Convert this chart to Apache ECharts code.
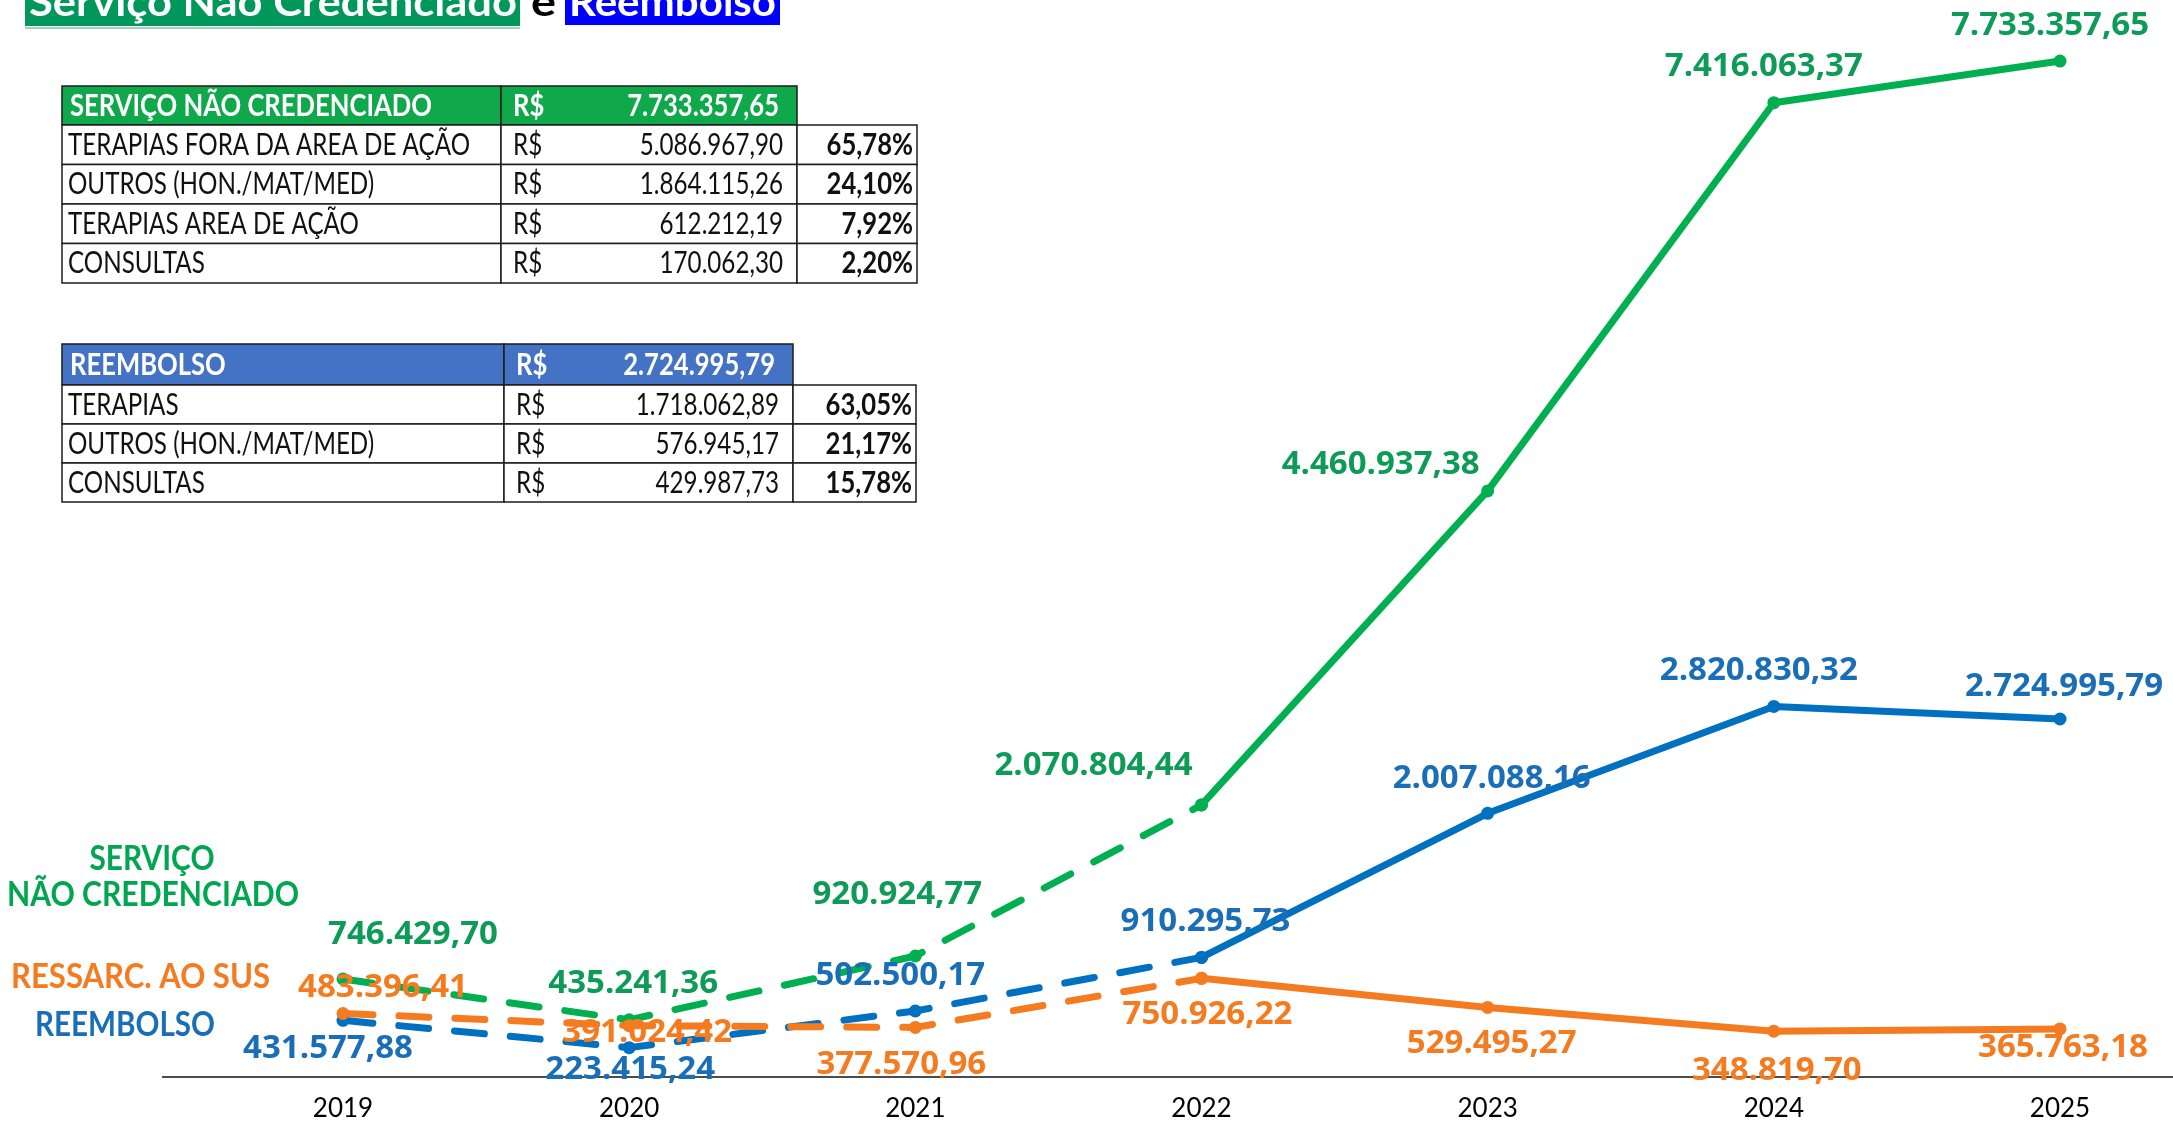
<!DOCTYPE html>
<html>
<head>
<meta charset="utf-8">
<style>
  html, body { margin: 0; padding: 0; background: #ffffff; }
  #chart { width: 2173px; height: 1122px; }
</style>
<script src="https://cdn.jsdelivr.net/npm/echarts@6/dist/echarts.min.js"></script>
</head>
<body>
<div id="chart"></div>
<script>
// ---- data ----
const years = ['2019', '2020', '2021', '2022', '2023', '2024', '2025'];
const servicoNaoCredenciado = [746429.70, 435241.36, 920924.77, 2070804.44, 4460937.38, 7416063.37, 7733357.65];
const reembolso = [431577.88, 223415.24, 502500.17, 910295.73, 2007088.16, 2820830.32, 2724995.79];
const ressarcSus = [483396.41, 391024.42, 377570.96, 750926.22, 529495.27, 348819.70, 365763.18];
const lastDashedIndex = 3; // years up to 2022 drawn dashed, from 2022 on solid

// breakdown tables
const sncTitle = 'SERVIÇO NÃO CREDENCIADO';
const sncTotal = '7.733.357,65';
const sncItems = ['TERAPIAS FORA DA AREA DE AÇÃO', 'OUTROS (HON./MAT/MED)', 'TERAPIAS AREA DE AÇÃO', 'CONSULTAS'];
const sncValues = ['5.086.967,90', '1.864.115,26', '612.212,19', '170.062,30'];
const sncShares = ['65,78%', '24,10%', '7,92%', '2,20%'];

const reeTitle = 'REEMBOLSO';
const reeTotal = '2.724.995,79';
const reeItems = ['TERAPIAS', 'OUTROS (HON./MAT/MED)', 'CONSULTAS'];
const reeValues = ['1.718.062,89', '576.945,17', '429.987,73'];
const reeShares = ['63,05%', '21,17%', '15,78%'];

// ---- label placement (centre of each value label relative to its point) ----
const sncOffsets = [[70, -44], [4, -36], [-18, -61], [-108, -39], [-107, -26], [-10, -36], [-10, -35]];
const reeOffsets = [[-15, 28], [1, 22], [-15, -35], [4, -36], [4, -35], [-15, -36], [4, -32]];
const susOffsets = [[40, -26], [18, 7], [-14, 37], [6, 36], [4, 36], [3, 39], [3, 19]];

const GREEN = '#00B050', GREEN_TXT = '#0E9B57';
const BLUE = '#0070C0', BLUE_TXT = '#1A6EB8';
const ORANGE = '#F47B20', ORANGE_TXT = '#F47B20';

// plot frame
const GRID = { left: 343, right: 113, top: 26, height: 1051 };
const AXIS_Y = GRID.top + GRID.height;

function fmtBR(v) {
  const parts = v.toFixed(2).split('.');
  return parts[0].replace(/\B(?=(\d{3})+(?!\d))/g, '.') + ',' + parts[1];
}

const measureCtx = document.createElement('canvas').getContext('2d');
function fitScale(text, font, width) {
  measureCtx.font = font;
  return width / measureCtx.measureText(text).width;
}

function lineSeries(name, values, offsets, lineColor, textColor, dashed) {
  const data = values.map(function (v, i) {
    const inPart = dashed ? i <= lastDashedIndex : i >= lastDashedIndex;
    if (!inPart) return '-';
    const showLabel = dashed ? i < lastDashedIndex : true;
    return {
      value: v,
      label: showLabel ? { show: true, offset: offsets[i] } : { show: false }
    };
  });
  return {
    name: name,
    type: 'line',
    data: data,
    symbol: 'circle',
    symbolSize: 13,
    connectNulls: false,
    itemStyle: { color: lineColor },
    lineStyle: {
      color: lineColor,
      width: 7,
      type: dashed ? [30, 26] : 'solid',
      cap: dashed ? 'round' : 'butt'
    },
    label: {
      show: true,
      position: 'inside',
      color: textColor,
      fontFamily: 'Open Sans',
      fontWeight: 'bold',
      fontSize: 33,
      formatter: function (p) { return fmtBR(p.value); }
    },
    emphasis: { disabled: true },
    z: 3
  };
}

// ---- table drawing ----
const TABLE_FONT_SIZE = 31;
const regFont = TABLE_FONT_SIZE + 'px Lato';
const boldFont = 'bold ' + TABLE_FONT_SIZE + 'px Lato';
const regScale = fitScale('TERAPIAS FORA DA AREA DE AÇÃO', regFont, 402);
const boldScale = fitScale('SERVIÇO NÃO CREDENCIADO', boldFont, 362);

function cellText(text, x, y, align, bold, color) {
  return {
    type: 'text',
    x: x, y: y,
    scaleX: bold ? boldScale : regScale,
    z: 20,
    style: {
      text: text,
      font: bold ? boldFont : regFont,
      fill: color,
      textAlign: align,
      textVerticalAlign: 'middle'
    }
  };
}

function cellRect(x, y, w, h, fill) {
  return {
    type: 'rect',
    z: 10,
    shape: { x: x, y: y, width: w, height: h },
    style: { fill: fill, stroke: '#1c1c1c', lineWidth: 1.5 }
  };
}

function buildTable(g) {
  const els = [];
  const x0 = g.x0, c1 = g.c1, c2 = g.c2, c3 = g.c3;
  els.push(cellRect(x0, g.top, c1 - x0, g.headerH, g.headerColor));
  els.push(cellRect(c1, g.top, c2 - c1, g.headerH, g.headerColor));
  const hy = g.top + g.headerH / 2;
  els.push(cellText(g.title, x0 + 8, hy, 'left', true, '#ffffff'));
  els.push(cellText('R$', c1 + 12, hy, 'left', true, '#ffffff'));
  els.push(cellText(g.total, c2 - 18, hy, 'right', true, '#ffffff'));
  g.items.forEach(function (item, i) {
    const ry = g.top + g.headerH + i * g.rowH;
    els.push(cellRect(x0, ry, c1 - x0, g.rowH, '#ffffff'));
    els.push(cellRect(c1, ry, c2 - c1, g.rowH, '#ffffff'));
    els.push(cellRect(c2, ry, c3 - c2, g.rowH, '#ffffff'));
    const cy = ry + g.rowH / 2;
    els.push(cellText(item, x0 + 6, cy, 'left', false, '#111111'));
    els.push(cellText('R$', c1 + 12, cy, 'left', false, '#111111'));
    els.push(cellText(g.values[i], c2 - 14, cy, 'right', false, '#111111'));
    els.push(cellText(g.shares[i], c3 - 4, cy, 'right', true, '#111111'));
  });
  return els;
}

// ---- heading (runs off the top edge) ----
function headingElements() {
  const size = 40;
  const font = 'bold ' + size + 'px Lato';
  const midY = 3;
  const els = [];
  els.push({ type: 'rect', z: 10, shape: { x: 25, y: -30, width: 495, height: 56 }, style: { fill: '#00975A' } });
  els.push({ type: 'rect', z: 10, shape: { x: 25, y: 27, width: 495, height: 2 }, style: { fill: '#9FD6BF' } });
  els.push({ type: 'rect', z: 10, shape: { x: 565, y: -30, width: 215, height: 55 }, style: { fill: '#0000FF' } });
  els.push({ type: 'text', x: 29, y: midY, z: 20, scaleX: fitScale('Serviço Não Credenciado', font, 488),
    style: { text: 'Serviço Não Credenciado', font: font, fill: '#ffffff', textAlign: 'left', textVerticalAlign: 'middle' } });
  els.push({ type: 'text', x: 531, y: midY, z: 20, scaleX: fitScale('e', font, 25),
    style: { text: 'e', font: font, fill: '#000000', textAlign: 'left', textVerticalAlign: 'middle' } });
  els.push({ type: 'text', x: 569, y: midY, z: 20, scaleX: fitScale('Reembolso', font, 207),
    style: { text: 'Reembolso', font: font, fill: '#ffffff', textAlign: 'left', textVerticalAlign: 'middle' } });
  return els;
}

// ---- series names on the left ----
function nameElements() {
  const font = 'bold 34px Lato';
  const mk = function (text, x, y, align, width, color) {
    return { type: 'text', x: x, y: y, z: 20, scaleX: fitScale(text, font, width),
      style: { text: text, font: font, fill: color, textAlign: align, textVerticalAlign: 'middle' } };
  };
  return [
    mk('SERVIÇO', 152, 859, 'center', 125, '#00A650'),
    mk('NÃO CREDENCIADO', 153, 895, 'center', 292, '#00A650'),
    mk('RESSARC. AO SUS', 11, 977, 'left', 259, '#F47B20'),
    mk('REEMBOLSO', 35, 1025, 'left', 180, '#1A6EB8')
  ];
}

// baseline running under the whole plot
const baseline = {
  type: 'line', z: 1,
  shape: { x1: 162, y1: AXIS_Y, x2: 2173, y2: AXIS_Y },
  style: { stroke: '#111111', lineWidth: 1.5 }
};

const graphics = [baseline]
  .concat(headingElements())
  .concat(buildTable({
    x0: 62, c1: 501, c2: 797, c3: 917, top: 86, headerH: 39, rowH: 39.5,
    headerColor: '#0FA94C', title: sncTitle, total: sncTotal,
    items: sncItems, values: sncValues, shares: sncShares
  }))
  .concat(buildTable({
    x0: 62, c1: 504, c2: 793, c3: 916, top: 344, headerH: 41, rowH: 39,
    headerColor: '#4472C4', title: reeTitle, total: reeTotal,
    items: reeItems, values: reeValues, shares: reeShares
  }))
  .concat(nameElements());

const chart = echarts.init(document.getElementById('chart'), null, { renderer: 'canvas' });
chart.setOption({
  animation: false,
  backgroundColor: '#ffffff',
  grid: { left: GRID.left, right: GRID.right, top: GRID.top, height: GRID.height, containLabel: false },
  xAxis: {
    type: 'category',
    data: years,
    boundaryGap: false,
    axisLine: { show: false },
    axisTick: { show: false },
    axisLabel: {
      color: '#000000',
      fontFamily: "'Liberation Sans Narrow', Lato",
      fontSize: 26,
      margin: 19
    },
    splitLine: { show: false }
  },
  yAxis: {
    type: 'value',
    min: 0,
    max: 8000000,
    show: false,
    splitLine: { show: false }
  },
  series: [
    lineSeries('SERVIÇO NÃO CREDENCIADO', servicoNaoCredenciado, sncOffsets, GREEN, GREEN_TXT, true),
    lineSeries('SERVIÇO NÃO CREDENCIADO', servicoNaoCredenciado, sncOffsets, GREEN, GREEN_TXT, false),
    lineSeries('REEMBOLSO', reembolso, reeOffsets, BLUE, BLUE_TXT, true),
    lineSeries('REEMBOLSO', reembolso, reeOffsets, BLUE, BLUE_TXT, false),
    lineSeries('RESSARC. AO SUS', ressarcSus, susOffsets, ORANGE, ORANGE_TXT, true),
    lineSeries('RESSARC. AO SUS', ressarcSus, susOffsets, ORANGE, ORANGE_TXT, false)
  ],
  graphic: graphics
});
</script>
</body>
</html>
